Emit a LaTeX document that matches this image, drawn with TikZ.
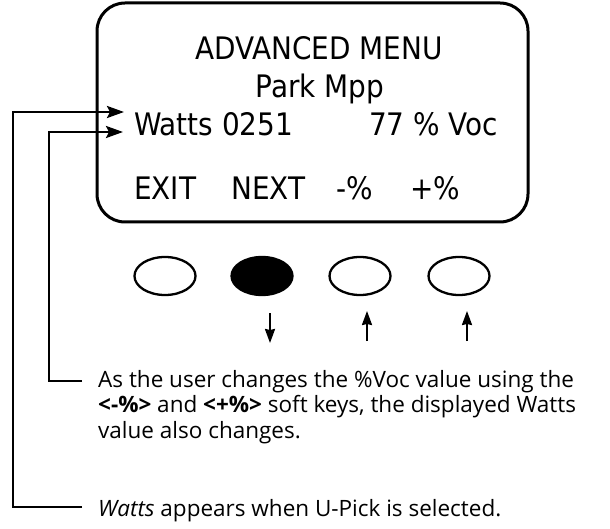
\documentclass[tikz,border=0pt]{standalone}
\usepackage{fontspec}
\setmainfont{Open Sans}
\newfontfamily\lcdfont{DejaVu Sans Condensed}
\usetikzlibrary{arrows.meta,shapes.geometric}
\begin{document}
\begin{tikzpicture}[x=1pt,y=-1pt,
  lcd/.style={font=\lcdfont\fontsize{31}{37}\selectfont, inner sep=0pt},
  note/.style={font=\fontsize{22.5}{25}\selectfont, inner sep=0pt, anchor=base west},
  conn/.style={line width=2.5pt, -{Stealth[length=17pt,width=12pt,inset=3pt]}},
  small/.style={line width=2pt, -{Stealth[length=14pt,width=10pt,inset=1pt]}},
  key/.style={draw, line width=2.3pt, ellipse, minimum width=61pt, minimum height=38pt, inner sep=0pt}
]
\useasboundingbox (0,0) rectangle (610,529);
% display
\node[draw, line width=3pt, rounded corners=28pt, minimum width=431pt, minimum height=219pt, inner sep=0pt] (screen) at (312.5,112.5) {};
\node[lcd, anchor=base] (title) at (319,60) {ADVANCED MENU};
\node[lcd, anchor=base] (mode) at (320,98) {Park Mpp};
\node[lcd, anchor=base west] (watts) at (134,136) {Watts 0251};
\node[lcd, anchor=base east] (voc) at (498,136) {77 \% Voc};
\node[lcd, anchor=base west] (exit) at (134,200) {EXIT};
\node[lcd, anchor=base west] (next) at (231,200) {NEXT};
\node[lcd, anchor=base west] (minus) at (336,200) {-\%};
\node[lcd, anchor=base west] (plus) at (410,200) {+\%};
% keys
\node[key] (k1) at (165,276) {};
\node[key, fill=black] (k2) at (262,276) {};
\node[key] (k3) at (360,276) {};
\node[key] (k4) at (459,276) {};
% small arrows
\coordinate (d1s) at (270,313); \coordinate (d1t) at (270,343);
\coordinate (u1s) at (367,341); \coordinate (u1t) at (367,311);
\coordinate (u2s) at (467,341); \coordinate (u2t) at (467,311);
\draw[small] (d1s) -- (d1t);
\draw[small] (u1s) -- (u1t);
\draw[small] (u2s) -- (u2t);
% notes
\node[note] (n1a) at (98,387) {As the user changes the \%Voc value using the};
\node[note] (n1b) at (98,412.5) {\textbf{<-\%>} and \textbf{<+\%>} soft keys, the displayed Watts};
\node[note] (n1c) at (98,438) {value also changes.};
\node[note] (n2) at (98,516) {\textit{Watts} appears when U-Pick is selected.};
% connectors
\coordinate (tipA) at (124,112);
\coordinate (tipB) at (123,132);
\coordinate (cornA) at (13,507);
\coordinate (cornB) at (49,381);
\coordinate (endA) at (82,507);
\coordinate (endB) at (82,381);
\draw[conn] (endA) -- (cornA) |- (tipA);
\draw[conn] (endB) -- (cornB) |- (tipB);
\end{tikzpicture}
\end{document}
